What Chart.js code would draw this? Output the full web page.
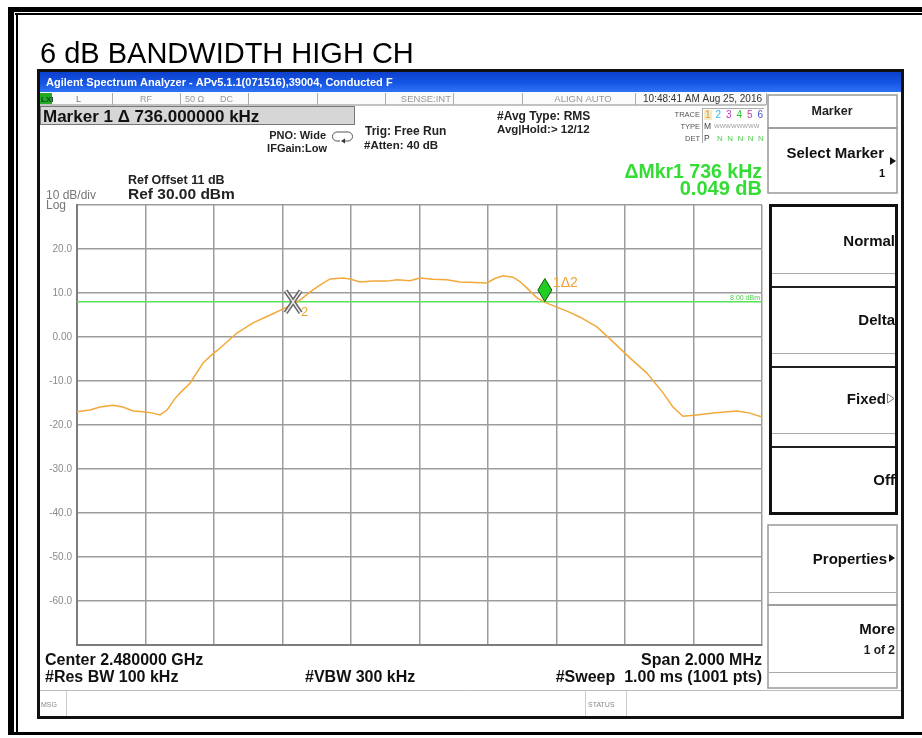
<!DOCTYPE html>
<html>
<head>
<meta charset="utf-8">
<script src="https://cdn.jsdelivr.net/npm/chart.js@4.4.1/dist/chart.umd.min.js"></script>
<style>
  html, body { margin: 0; padding: 0; background: #fff; }
  canvas { display: block; }
</style>
</head>
<body>
<canvas id="grafico" width="922" height="738"></canvas>
<script>
// --- DADOS LIDOS DA TELA ---
// frequência relativa ao centro (MHz) e nível do traço (dBm)
const traceFreqMHz = [
  -1.000, -0.962, -0.933, -0.895, -0.866, -0.836, -0.807, -0.778, -0.758, -0.737,
  -0.714, -0.699, -0.670, -0.632, -0.606, -0.582, -0.533, -0.486, -0.436, -0.387,
  -0.349, -0.320, -0.291, -0.261, -0.223, -0.203, -0.174, -0.136, -0.095, -0.066,
  -0.028, 0.001, 0.039, 0.080, 0.118, 0.162, 0.197, 0.220, 0.244, 0.273,
  0.293, 0.314, 0.343, 0.372, 0.401, 0.439, 0.469, 0.518, 0.565, 0.615,
  0.664, 0.711, 0.740, 0.769, 0.810, 0.857, 0.927, 0.965, 1.000
];
const traceLevelDbm = [
  -17.0, -16.6, -15.9, -15.5, -15.9, -16.8, -17.0, -17.3, -17.7, -16.6,
  -14.0, -12.7, -10.5, -5.9, -4.0, -2.5, 0.9, 3.2, 5.0, 6.8,
  8.4, 10.2, 11.8, 13.2, 13.4, 13.2, 12.5, 12.7, 12.7, 13.0,
  12.8, 13.4, 13.1, 13.0, 12.5, 12.4, 12.3, 13.3, 13.9, 13.6,
  12.6, 11.1, 8.9, 7.7, 6.8, 5.6, 4.5, 2.3, -1.1, -4.8,
  -8.2, -12.7, -15.9, -18.0, -17.7, -17.3, -16.8, -17.3, -18.2
];
const yTickValues = [30, 20, 10, 0, -10, -20, -30, -40, -50, -60, -70];
const xGridMHz = [-1, -0.8, -0.6, -0.4, -0.2, 0, 0.2, 0.4, 0.6, 0.8, 1];
const displayLineDbm = 8.0;
// marcador 1 (delta) e marcador 2 (referência)
const markerFreqMHz = [0.366, -0.369];
const markerLevelDbm = [8.05, 8.0];

const FONTE = '"Liberation Sans", Arial, sans-serif';

function texto(ctx, str, x, y, font, color, align) {
  ctx.font = font;
  ctx.fillStyle = color;
  ctx.textAlign = align || 'left';
  ctx.textBaseline = 'alphabetic';
  ctx.fillText(str, x, y);
}

function linha(ctx, x1, y1, x2, y2, color, w) {
  ctx.strokeStyle = color;
  ctx.lineWidth = w || 1;
  ctx.beginPath();
  ctx.moveTo(x1, y1);
  ctx.lineTo(x2, y2);
  ctx.stroke();
}

// desenha a moldura do analisador e todos os textos fora da área do gráfico
const molduraAnalisador = {
  id: 'molduraAnalisador',
  beforeDraw(chart) {
    const ctx = chart.ctx;
    ctx.save();
    ctx.fillStyle = '#fff';
    ctx.fillRect(0, 0, 922, 738);

    // moldura externa (dupla)
    ctx.fillStyle = '#000';
    ctx.fillRect(8, 7, 914, 5);
    ctx.fillRect(8, 7, 6, 728);
    ctx.fillRect(15, 13, 907, 2);
    ctx.fillRect(16, 13, 2, 722);
    ctx.fillRect(8, 732, 914, 3);

    texto(ctx, '6 dB BANDWIDTH HIGH CH', 40, 63, '29px ' + FONTE, '#000');

    // janela do analisador
    ctx.fillStyle = '#fff';
    ctx.fillRect(38, 70, 865, 648);
    ctx.strokeStyle = '#111';
    ctx.lineWidth = 3;
    ctx.strokeRect(38.5, 70.5, 864, 647);

    // barra de título azul
    const g = ctx.createLinearGradient(0, 70, 0, 92);
    g.addColorStop(0, '#0a3cc8');
    g.addColorStop(0.6, '#1656e4');
    g.addColorStop(1, '#2f72f4');
    ctx.fillStyle = g;
    ctx.fillRect(40, 72, 861, 20);
    texto(ctx, 'Agilent Spectrum Analyzer - APv5.1.1(071516),39004, Conducted F', 46, 86, 'bold 11px ' + FONTE, '#fff');

    // linha de status
    ctx.fillStyle = '#fafafa';
    ctx.fillRect(40, 92, 726, 13);
    linha(ctx, 40, 105, 766, 105, '#888', 1);
    ctx.fillStyle = '#2a2';
    ctx.fillRect(40, 93, 12, 11);
    texto(ctx, 'LXI', 41, 102, 'bold 8px ' + FONTE, '#143');
    [112, 180, 248, 317, 385, 453, 522, 635, 766].forEach(x => linha(ctx, x + 0.5, 93, x + 0.5, 105, '#aaa', 1));
    texto(ctx, 'L', 76, 102, '9px ' + FONTE, '#777');
    texto(ctx, 'RF', 140, 102, '9px ' + FONTE, '#999');
    texto(ctx, '50 Ω', 185, 102, '9px ' + FONTE, '#999');
    texto(ctx, 'DC', 220, 102, '9px ' + FONTE, '#999');
    texto(ctx, 'SENSE:INT', 451, 102, '9.5px ' + FONTE, '#999', 'right');
    texto(ctx, 'ALIGN AUTO', 583, 102, '9.5px ' + FONTE, '#999', 'center');
    texto(ctx, '10:48:41 AM Aug 25, 2016', 762, 102, '10px ' + FONTE, '#333', 'right');

    // barra do marcador
    ctx.fillStyle = '#d6d6d6';
    ctx.fillRect(40, 106, 315, 19);
    ctx.strokeStyle = '#777';
    ctx.lineWidth = 1;
    ctx.strokeRect(40.5, 106.5, 314, 18);
    texto(ctx, 'Marker 1 Δ 736.000000 kHz', 43, 122, 'bold 17px ' + FONTE, '#111');

    texto(ctx, 'PNO: Wide', 326, 139, 'bold 11px ' + FONTE, '#222', 'right');
    texto(ctx, 'IFGain:Low', 327, 152, 'bold 11px ' + FONTE, '#222', 'right');
    // ícone de trigger
    ctx.strokeStyle = '#555';
    ctx.lineWidth = 1;
    ctx.beginPath();
    ctx.moveTo(340, 141); ctx.lineTo(337, 141); ctx.arc(337, 136.5, 4.5, Math.PI / 2, Math.PI * 1.5);
    ctx.lineTo(348, 132); ctx.arc(348, 136.5, 4.5, -Math.PI / 2, Math.PI / 2);
    ctx.lineTo(344, 141);
    ctx.stroke();
    ctx.fillStyle = '#333';
    ctx.beginPath(); ctx.moveTo(345, 138.5); ctx.lineTo(341, 141); ctx.lineTo(345, 143.5); ctx.fill();

    texto(ctx, 'Trig: Free Run', 365, 135, 'bold 12px ' + FONTE, '#222');
    texto(ctx, '#Atten: 40 dB', 364, 149, 'bold 11.5px ' + FONTE, '#222');
    texto(ctx, '#Avg Type: RMS', 497, 120, 'bold 12px ' + FONTE, '#222');
    texto(ctx, 'Avg|Hold:> 12/12', 497, 133, 'bold 11.5px ' + FONTE, '#222');

    // bloco TRACE / TYPE / DET
    texto(ctx, 'TRACE', 700, 117, '7.5px ' + FONTE, '#555', 'right');
    texto(ctx, 'TYPE', 700, 129, '7.5px ' + FONTE, '#555', 'right');
    texto(ctx, 'DET', 700, 141, '7.5px ' + FONTE, '#555', 'right');
    linha(ctx, 702.5, 108, 702.5, 143, '#aaa', 1);
    linha(ctx, 702, 108.5, 764, 108.5, '#aaa', 1);
    ctx.fillStyle = '#f3ebc8';
    ctx.fillRect(704, 110, 8, 10);
    const coresTrace = ['#e0a030', '#30b8e0', '#c030c0', '#30c030', '#c040a0', '#4050d0'];
    coresTrace.forEach((c, i) => texto(ctx, String(i + 1), 705 + i * 10.5, 118, '10px ' + FONTE, c));
    texto(ctx, 'M', 704, 129, '8.5px ' + FONTE, '#444');
    texto(ctx, 'WWWWWWWW', 714, 128, '6px ' + FONTE, '#999');
    texto(ctx, 'P', 704, 141, '8.5px ' + FONTE, '#444');
    texto(ctx, 'N  N  N  N  N', 717, 141, '8px ' + FONTE, '#50d050');

    texto(ctx, 'ΔMkr1 736 kHz', 762, 178, 'bold 19.5px ' + FONTE, '#33dd33', 'right');
    texto(ctx, '0.049 dB', 762, 195, 'bold 20px ' + FONTE, '#33dd33', 'right');

    texto(ctx, 'Ref Offset 11 dB', 128, 184, 'bold 12.5px ' + FONTE, '#222');
    texto(ctx, 'Ref 30.00 dBm', 128, 199, 'bold 15.5px ' + FONTE, '#222');
    texto(ctx, '10 dB/div', 46, 199, '12px ' + FONTE, '#777');
    texto(ctx, 'Log', 46, 209, '12px ' + FONTE, '#777');

    // rodapé
    texto(ctx, 'Center 2.480000 GHz', 45, 665, 'bold 16px ' + FONTE, '#111');
    texto(ctx, '#Res BW 100 kHz', 45, 682, 'bold 16px ' + FONTE, '#111');
    texto(ctx, '#VBW 300 kHz', 305, 682, 'bold 16px ' + FONTE, '#111');
    texto(ctx, 'Span 2.000 MHz', 762, 665, 'bold 16px ' + FONTE, '#111', 'right');
    texto(ctx, '#Sweep  1.00 ms (1001 pts)', 762, 682, 'bold 16px ' + FONTE, '#111', 'right');

    linha(ctx, 40, 690.5, 901, 690.5, '#bbb', 1);
    linha(ctx, 66.5, 691, 66.5, 716, '#ccc', 1);
    linha(ctx, 585.5, 691, 585.5, 716, '#ccc', 1);
    linha(ctx, 626.5, 691, 626.5, 716, '#ccc', 1);
    texto(ctx, 'MSG', 41, 707, '7px ' + FONTE, '#888');
    texto(ctx, 'STATUS', 588, 707, '7px ' + FONTE, '#888');

    // teclas laterais
    ctx.strokeStyle = '#999';
    ctx.lineWidth = 1.5;
    ctx.strokeRect(768, 95, 129, 33);
    ctx.strokeRect(768, 128, 129, 65);
    texto(ctx, 'Marker', 832, 115, 'bold 12.5px ' + FONTE, '#222', 'center');
    texto(ctx, 'Select Marker', 884, 158, 'bold 15px ' + FONTE, '#111', 'right');
    texto(ctx, '1', 885, 177, 'bold 11px ' + FONTE, '#111', 'right');
    ctx.fillStyle = '#111';
    ctx.beginPath(); ctx.moveTo(890, 157); ctx.lineTo(896, 161); ctx.lineTo(890, 165); ctx.fill();

    const topos = [205, 287, 367, 447];
    const baixos = [273, 353, 433, 513];
    topos.forEach((t, i) => {
      if (i > 0) linha(ctx, 770, t, 897, t, '#222', 2);
      linha(ctx, 771, baixos[i] + 0.5, 896, baixos[i] + 0.5, '#aaa', 1);
    });
    ctx.strokeStyle = '#111';
    ctx.lineWidth = 3;
    ctx.strokeRect(770.5, 205.5, 126, 308);
    texto(ctx, 'Normal', 895, 246, 'bold 15px ' + FONTE, '#111', 'right');
    texto(ctx, 'Delta', 895, 325, 'bold 15px ' + FONTE, '#111', 'right');
    texto(ctx, 'Fixed', 886, 404, 'bold 15px ' + FONTE, '#111', 'right');
    ctx.strokeStyle = '#777';
    ctx.lineWidth = 1;
    ctx.beginPath(); ctx.moveTo(887.5, 394); ctx.lineTo(894, 398.5); ctx.lineTo(887.5, 403); ctx.closePath(); ctx.stroke();
    texto(ctx, 'Off', 895, 485, 'bold 15px ' + FONTE, '#111', 'right');

    ctx.strokeStyle = '#999';
    ctx.lineWidth = 1.5;
    ctx.strokeRect(768, 525, 129, 80);
    ctx.strokeRect(768, 605, 129, 83);
    linha(ctx, 769, 592.5, 896, 592.5, '#aaa', 1);
    linha(ctx, 769, 672.5, 896, 672.5, '#aaa', 1);
    texto(ctx, 'Properties', 887, 564, 'bold 15px ' + FONTE, '#111', 'right');
    ctx.fillStyle = '#111';
    ctx.beginPath(); ctx.moveTo(889, 554); ctx.lineTo(895, 558); ctx.lineTo(889, 562); ctx.fill();
    texto(ctx, 'More', 895, 634, 'bold 15px ' + FONTE, '#111', 'right');
    texto(ctx, '1 of 2', 895, 654, 'bold 12px ' + FONTE, '#222', 'right');

    ctx.restore();
  },
  afterDatasetsDraw(chart) {
    const ctx = chart.ctx;
    const xs = chart.scales.x, ys = chart.scales.y;
    const area = chart.chartArea;
    ctx.save();

    // rótulo da linha de display
    texto(ctx, displayLineDbm.toFixed(2) + ' dBm', area.right - 2, ys.getPixelForValue(displayLineDbm) - 2, '7px ' + FONTE, '#4ed04e', 'right');

    // marcador 2: "X" cinza
    const x2 = xs.getPixelForValue(markerFreqMHz[1]);
    const y2 = ys.getPixelForValue(markerLevelDbm[1]);
    [['#666', 4.5], ['#eee', 1.5]].forEach(([c, w]) => {
      ctx.strokeStyle = c;
      ctx.lineWidth = w;
      ctx.beginPath();
      ctx.moveTo(x2 - 7.5, y2 - 11); ctx.lineTo(x2 + 7.5, y2 + 11);
      ctx.moveTo(x2 + 7.5, y2 - 11); ctx.lineTo(x2 - 7.5, y2 + 11);
      ctx.stroke();
    });
    texto(ctx, '2', x2 + 8, y2 + 14, '13px ' + FONTE, '#f0a030');

    // marcador 1: losango verde com a ponta sobre o traço
    const x1 = xs.getPixelForValue(markerFreqMHz[0]);
    const y1 = ys.getPixelForValue(markerLevelDbm[0]);
    ctx.fillStyle = '#22cc22';
    ctx.strokeStyle = '#0b5a0b';
    ctx.lineWidth = 1;
    ctx.beginPath();
    ctx.moveTo(x1, y1);
    ctx.lineTo(x1 + 7, y1 - 11.5);
    ctx.lineTo(x1, y1 - 23);
    ctx.lineTo(x1 - 7, y1 - 11.5);
    ctx.closePath();
    ctx.fill();
    ctx.stroke();
    texto(ctx, '1Δ2', x1 + 8, y1 - 15, '14px ' + FONTE, '#f0a030');

    ctx.restore();
  }
};

const ctx = document.getElementById('grafico').getContext('2d');
new Chart(ctx, {
  type: 'line',
  data: {
    datasets: [
      {
        label: 'Trace 1',
        data: traceFreqMHz.map((f, i) => ({ x: f, y: traceLevelDbm[i] })),
        borderColor: '#f2a83a',
        borderWidth: 1.5,
        pointRadius: 0,
        tension: 0
      },
      {
        label: 'Display line',
        data: [{ x: xGridMHz[0], y: displayLineDbm }, { x: xGridMHz[xGridMHz.length - 1], y: displayLineDbm }],
        borderColor: '#55e455',
        borderWidth: 1.5,
        pointRadius: 0
      }
    ]
  },
  options: {
    responsive: false,
    animation: false,
    layout: { padding: { left: 0, top: 205, right: 160, bottom: 93 } },
    plugins: {
      legend: { display: false },
      tooltip: { enabled: false }
    },
    scales: {
      x: {
        type: 'linear',
        min: xGridMHz[0],
        max: xGridMHz[xGridMHz.length - 1],
        afterBuildTicks: s => { s.ticks = xGridMHz.map(v => ({ value: v })); },
        afterFit: s => { s.height = 0; },
        ticks: { display: false },
        grid: { color: '#9c9c9c', lineWidth: 1.5, drawTicks: false },
        border: { color: '#7c7c7c', width: 2 }
      },
      y: {
        min: yTickValues[yTickValues.length - 1],
        max: yTickValues[0],
        afterBuildTicks: s => { s.ticks = yTickValues.map(v => ({ value: v })); },
        afterFit: s => { s.width = 77; },
        ticks: {
          color: '#8a8a8a',
          padding: 5,
          font: { family: FONTE, size: 10 },
          callback: v => (v === yTickValues[0] || v === yTickValues[yTickValues.length - 1]) ? '' : (v === 0 ? '0.00' : v.toFixed(1))
        },
        grid: { color: '#9c9c9c', lineWidth: 1.5, drawTicks: false },
        border: { color: '#7c7c7c', width: 2 }
      }
    }
  },
  plugins: [molduraAnalisador]
});
</script>
</body>
</html>
